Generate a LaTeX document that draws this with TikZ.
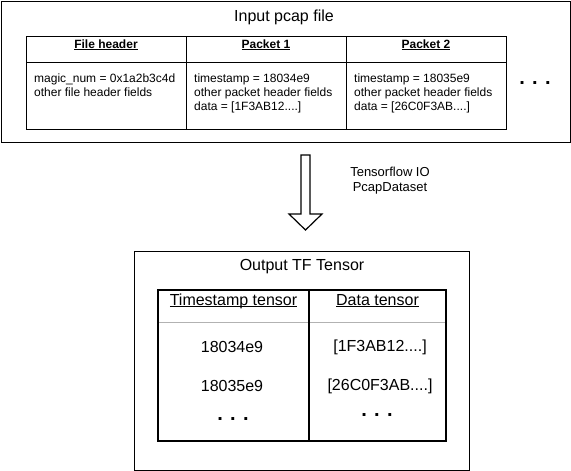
\documentclass[tikz,border=0pt]{standalone}
\usepackage{fontspec}
\setmainfont{Liberation Sans}
\newcommand{\ulabel}[1]{\underline{\smash{#1}}}
\tikzset{
	framebox/.style={draw=black, thin, inner sep=0},
	pcell/.style={draw=black, thin, minimum width=160, inner sep=0},
	tcell/.style={inner sep=0},
	smalltext/.style={font=\fontsize{12}{14}\selectfont},
	bigtext/.style={font=\fontsize{16}{19}\selectfont},
	dotstext/.style={font=\fontsize{20}{20}\selectfont\bfseries}
}
\begin{document}
\begin{tikzpicture}[x=1pt, y=-1pt]
		\useasboundingbox (0,0) rectangle (571,471);
		% input file
		\node[framebox, minimum width=569, minimum height=141] (pcapfile) at (285.5,71.5) {};
		\node[bigtext] (pcaptitle) at (284,17) {Input pcap file};
		\node[pcell, smalltext, minimum height=26] (fhead) at (106,49) {\textbf{\ulabel{File header}}};
		\node[pcell, smalltext, minimum height=26] (p1head) at (266,49) {\textbf{\ulabel{Packet 1}}};
		\node[pcell, smalltext, minimum height=26] (p2head) at (426,49) {\textbf{\ulabel{Packet 2}}};
		\node[pcell, minimum height=67] (fbody) at (106,95.5) {};
		\node[pcell, minimum height=67] (p1body) at (266,95.5) {};
		\node[pcell, minimum height=67] (p2body) at (426,95.5) {};
		\node[smalltext, align=left, anchor=north west, inner sep=0] (ftext) at (34,74) {magic\_num = 0x1a2b3c4d\\other file header fields};
		\node[smalltext, align=left, anchor=north west, inner sep=0] (p1text) at (194,74) {timestamp = 18034e9\\other packet header fields\\data = [1F3AB12....]};
		\node[smalltext, align=left, anchor=north west, inner sep=0] (p2text) at (354,74) {timestamp = 18035e9\\other packet header fields\\data = [26C0F3AB....]};
		\node[dotstext] (moredots) at (535,83) {. . .};
		% conversion
		\draw[draw=black, line width=1.2] (301,155) -- (310,155) -- (310,214) -- (322,214) -- (305.5,230) -- (289,214) -- (301,214) -- cycle;
		\node[font=\fontsize{13}{15}\selectfont, align=center] (convlabel) at (390,180.5) {Tensorflow IO\\PcapDataset};
		% output tensor
		\node[framebox, minimum width=335, minimum height=219] (tensor) at (301.5,360.5) {};
		\node[bigtext] (tensortitle) at (302,267) {Output TF Tensor};
		\node[tcell, bigtext, minimum width=151, minimum height=32] (tshead) at (233.5,306) {\ulabel{Timestamp tensor}};
		\node[tcell, bigtext, minimum width=137, minimum height=32] (datahead) at (377.5,306) {\ulabel{Data tensor}};
		\node[tcell, minimum width=151, minimum height=119] (tsbody) at (233.5,381.5) {};
		\node[tcell, minimum width=137, minimum height=119] (databody) at (377.5,381.5) {};
		\draw[draw=gray!60, thin] (tshead.south west) -- (datahead.south east);
		\draw[draw=black, line width=1.6] (tshead.north west) rectangle (databody.south east);
		\draw[draw=black, line width=1.6] (tshead.north east) -- (tsbody.south east);
		\node[bigtext] (ts1) at (232,347) {18034e9};
		\node[bigtext] (ts2) at (232,386) {18035e9};
		\node[dotstext] (tsdots) at (233,419) {. . .};
		\node[bigtext] (data1) at (380,347) {[1F3AB12....]};
		\node[bigtext] (data2) at (380,386) {[26C0F3AB....]};
		\node[dotstext] (datadots) at (377,415) {. . .};
	\end{tikzpicture}
\end{document}
